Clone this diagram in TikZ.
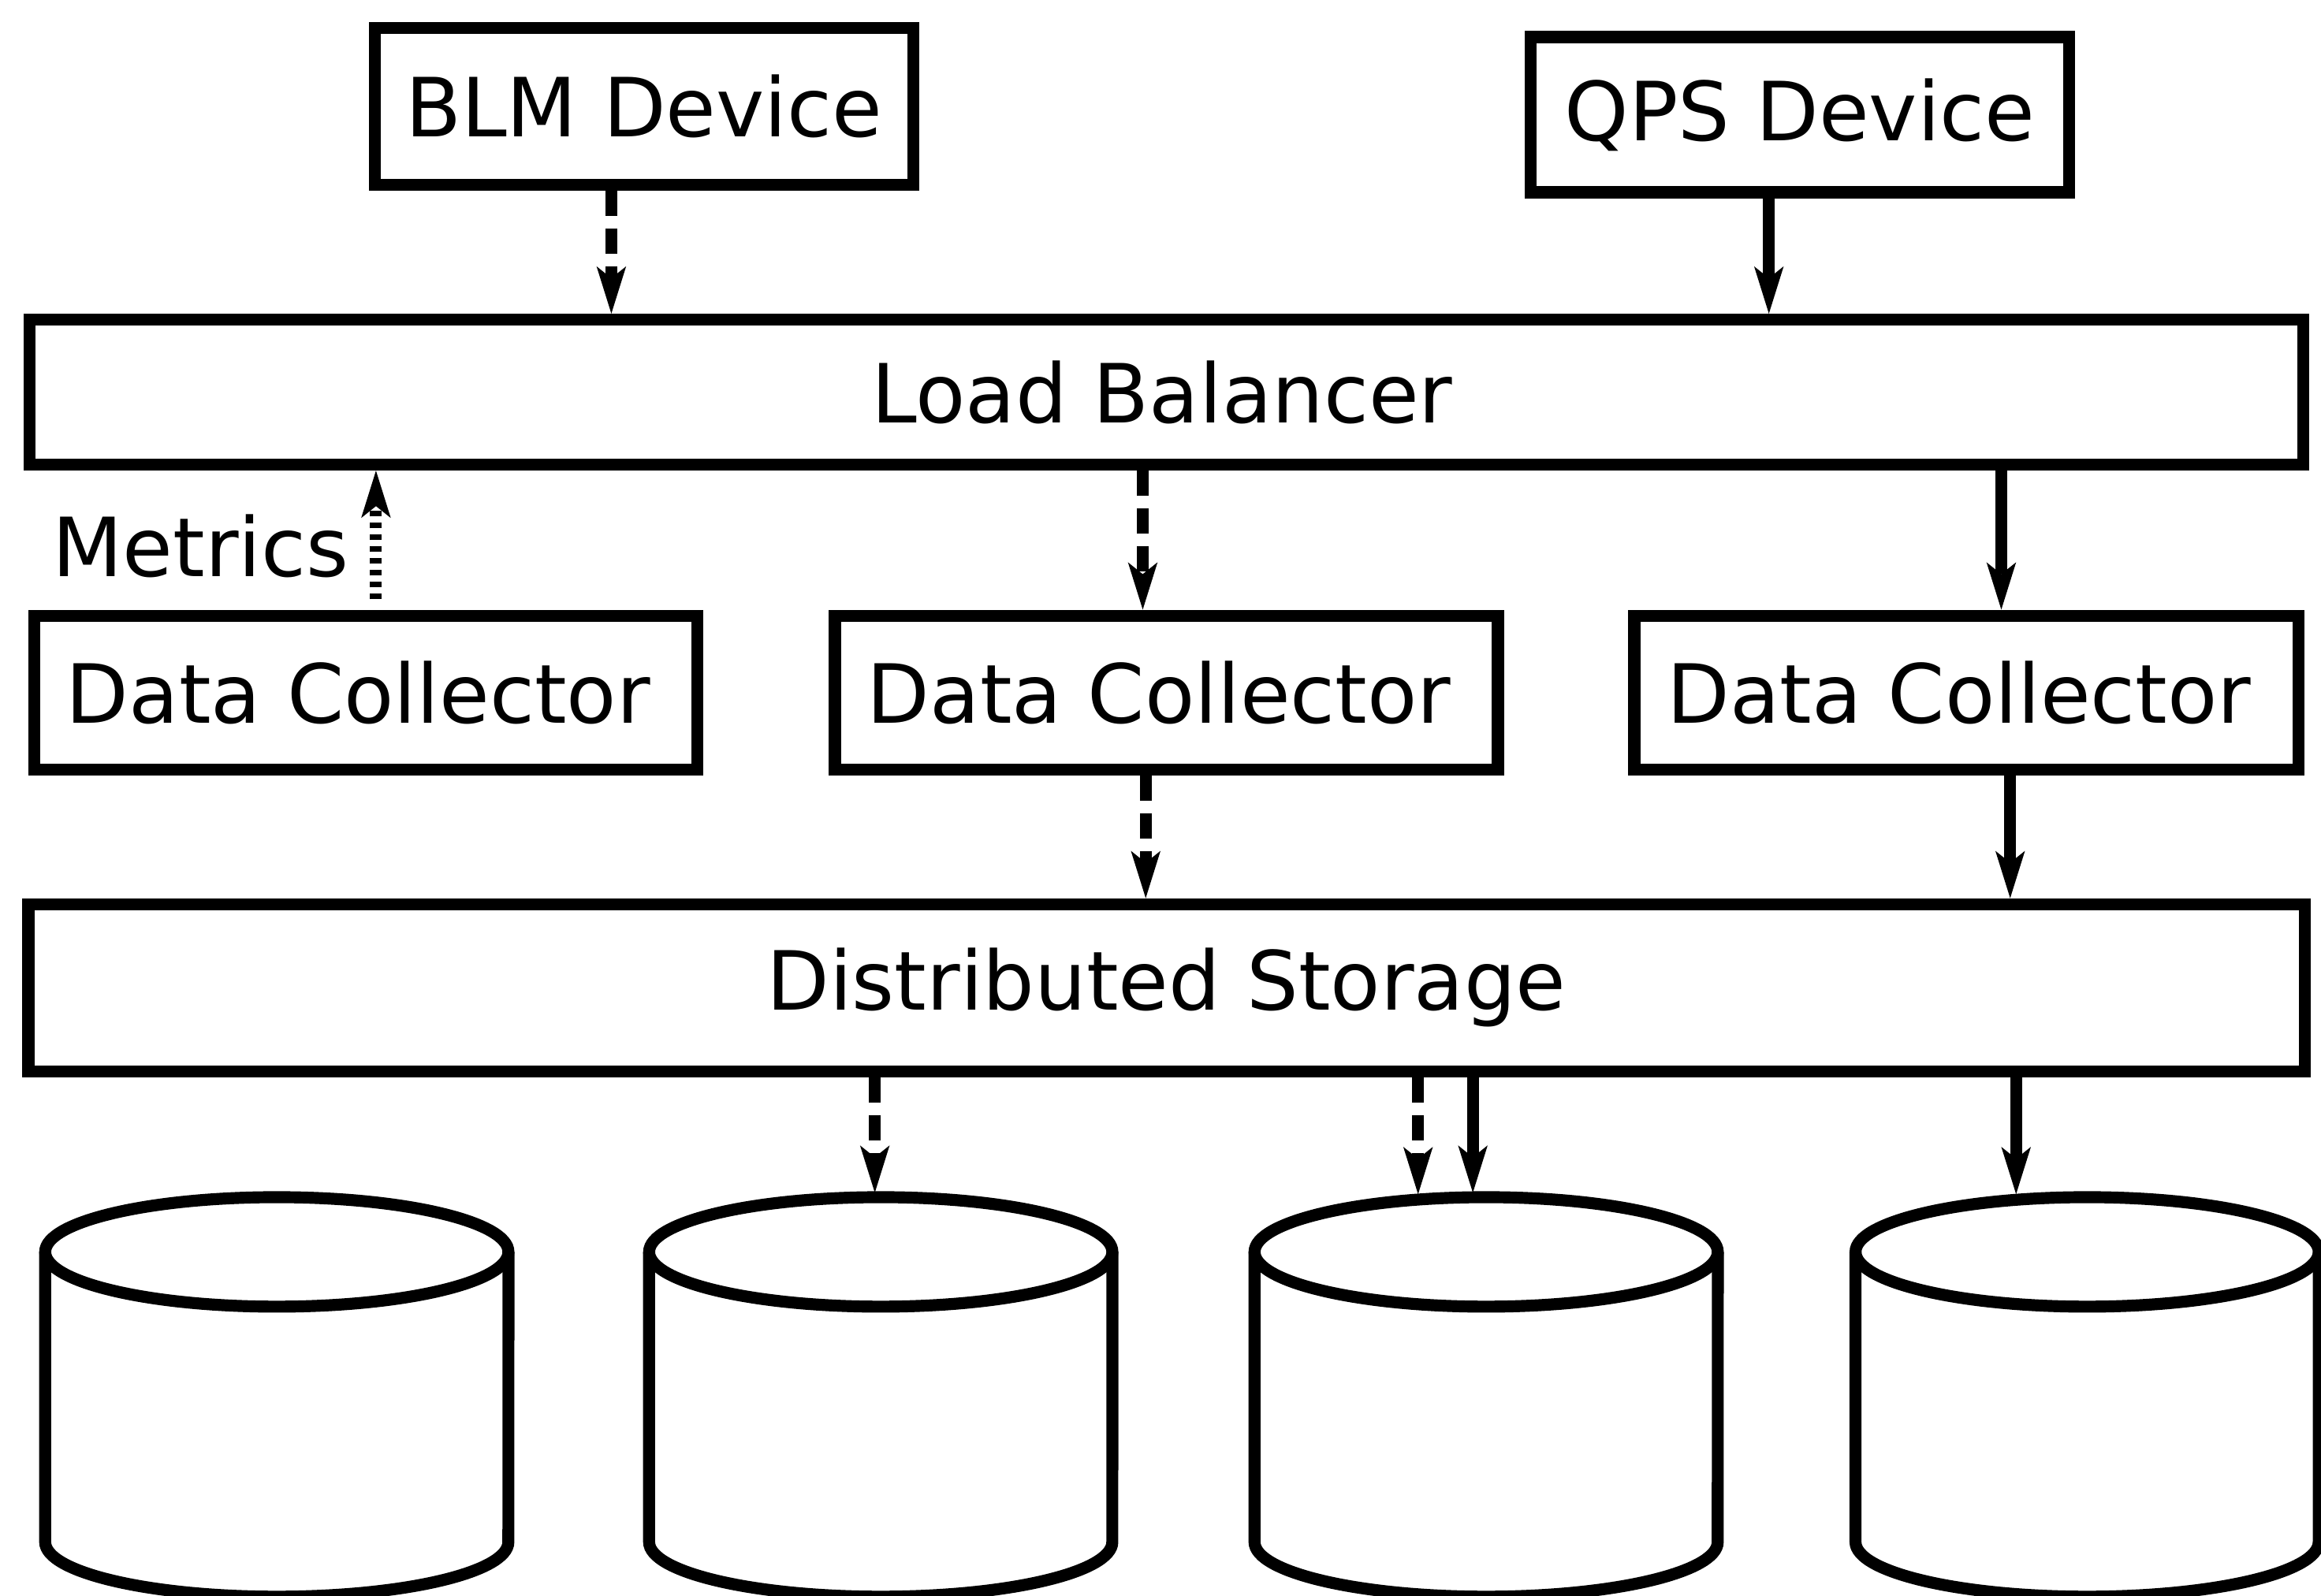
\documentclass[tikz,border=0pt]{standalone}
\usepackage{fontspec}
\setmainfont{DejaVu Sans}
\usetikzlibrary{arrows.meta}
\begin{document}
\begin{tikzpicture}[x=0.02cm, y=-0.02cm,
  font=\fontsize{31.4pt}{37pt}\selectfont,
  lw/.style={line width=4.6pt},
  box/.style={draw, lw, inner sep=0pt, rectangle},
  tip/.style={-{Stealth[length=0.64cm, width=0.4cm, inset=0.16cm, line width=0pt]}},
  solidarrow/.style={lw, tip},
  dasharrow/.style={lw, tip, dash pattern=on 0.34cm off 0.17cm},
  dotarrow/.style={lw, tip, dash pattern=on 0.08cm off 0.08cm}]

\useasboundingbox (0,0) rectangle (1568,1078);

% boxes
\node[box, minimum width=7.28cm, minimum height=2.12cm] (blm) at (435,72) {BLM Device};
\node[box, minimum width=7.28cm, minimum height=2.10cm] (qps) at (1216,77.5) {QPS Device};
\node[box, minimum width=30.72cm, minimum height=1.96cm] (lb) at (788,265) {\hspace*{-0.12cm}Load Balancer};
\node[box, minimum width=8.96cm, minimum height=2.08cm] (dc1) at (247,468) {\hspace*{-0.2cm}Data Collector};
\node[box, minimum width=8.96cm, minimum height=2.08cm] (dc2) at (788,468) {\hspace*{-0.2cm}Data Collector};
\node[box, minimum width=8.98cm, minimum height=2.08cm] (dc3) at (1328.5,468) {\hspace*{-0.2cm}Data Collector};
\node[box, minimum width=30.76cm, minimum height=2.26cm] (ds) at (788,667.5) {Distributed Storage};
\node[anchor=east, inner sep=0pt] (metrics) at (236,369) {Metrics};

% cylinders
\foreach \cx in {187,595,1004,1410}{
  \draw[lw] (\cx-156.5,846) -- (\cx-156.5,1042)
     arc[start angle=180, end angle=360, x radius=3.13cm, y radius=0.74cm]
     -- (\cx+156.5,846);
  \draw[lw] (\cx,846) ellipse [x radius=3.13cm, y radius=0.74cm];
}

% connector x positions
\coordinate (xa1) at (413,0);
\coordinate (xa2) at (1195,0);
\coordinate (xa3) at (772,0);
\coordinate (xa4) at (1352,0);
\coordinate (xa6) at (774,0);
\coordinate (xa7) at (1358,0);
\coordinate (mstart) at (254,405);
\coordinate (t2) at (591,806);
\coordinate (t3a) at (958,807);
\coordinate (t3b) at (995,806);
\coordinate (t4) at (1362,807);

\draw[dasharrow] (blm.south -| xa1) -- (lb.north -| xa1);
\draw[solidarrow] (qps.south -| xa2) -- (lb.north -| xa2);
\draw[dasharrow] (lb.south -| xa3) -- (dc2.north -| xa3);
\draw[solidarrow] (lb.south -| xa4) -- (dc3.north -| xa4);
\draw[dotarrow] (mstart) -- (lb.south -| mstart);
\draw[dasharrow] (dc2.south -| xa6) -- (ds.north -| xa6);
\draw[solidarrow] (dc3.south -| xa7) -- (ds.north -| xa7);
\draw[dasharrow] (ds.south -| t2) -- (t2);
\draw[dasharrow] (ds.south -| t3a) -- (t3a);
\draw[solidarrow] (ds.south -| t3b) -- (t3b);
\draw[solidarrow] (ds.south -| t4) -- (t4);
\end{tikzpicture}
\end{document}
